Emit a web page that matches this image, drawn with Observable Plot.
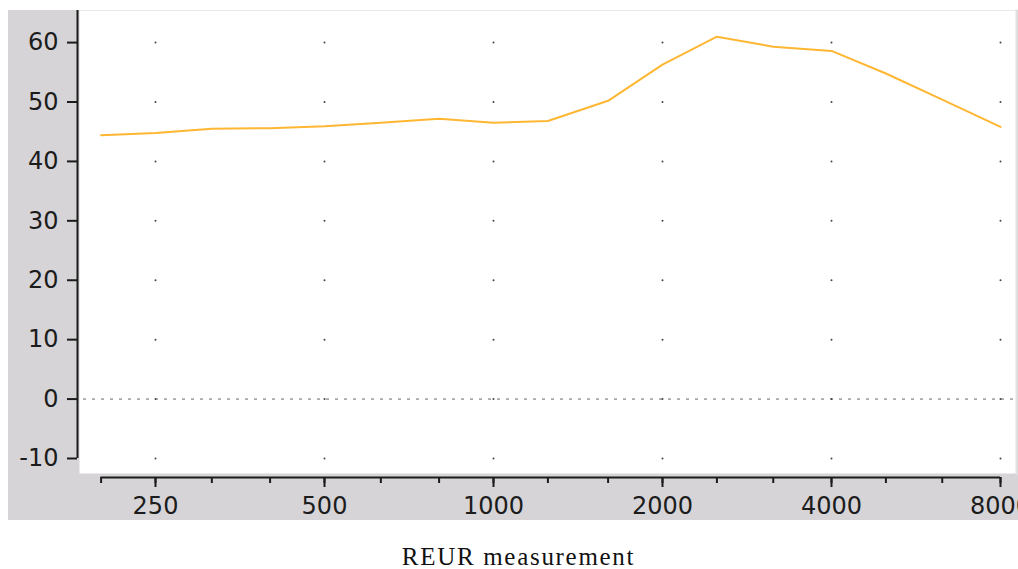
<!DOCTYPE html>
<html>
<head>
<meta charset="utf-8">
<script src="https://cdn.jsdelivr.net/npm/d3@7"></script>
<script src="https://cdn.jsdelivr.net/npm/@observablehq/plot@0.6"></script>
<style>
  html, body { margin: 0; padding: 0; background: #ffffff; overflow: hidden; }
  #chart { position: absolute; left: 8px; top: 10px; }
  #chart svg { overflow: visible; }
  #caption { position: absolute; left: 0; top: 544px; width: 1018px; padding-left: 19px; box-sizing: border-box;
    text-align: center; font-family: "Liberation Serif", "DejaVu Serif", serif; font-size: 25px; line-height: 1;
    letter-spacing: 1.7px; color: #111; }
</style>
</head>
<body>
<div id="chart"></div>
<div id="caption">REUR measurement</div>
<script>
// Third-octave frequencies (Hz)
const freqs = [200, 250, 315, 400, 500, 630, 800, 1000, 1250, 1600, 2000, 2500, 3150, 4000, 5000, 6300, 8000];
// REUR values (dB)
const reur = [44.4, 44.8, 45.5, 45.6, 45.9, 46.5, 47.2, 46.5, 46.8, 50.2, 56.3, 61.0, 59.3, 58.6, 54.8, 50.4, 45.8];
// Labelled x ticks
const majorTicks = [250, 500, 1000, 2000, 4000, 8000];
// y ticks
const yTicks = [-10, 0, 10, 20, 30, 40, 50, 60];
const yDomain = [-13.2, 65.4];

const data = freqs.map((f, i) => ({f, v: reur[i]}));
const gridPts = d3.cross(majorTicks, yTicks).map(([f, v]) => ({f, v}));

const axisColor = "#1c1c1c";
const font = "DejaVu Sans, sans-serif";

const chart = Plot.plot({
  width: 1010,
  height: 510,
  marginLeft: 69,
  marginRight: 2,
  marginTop: 0,
  marginBottom: 43,
  style: {background: "#d6d4d7", fontFamily: font, color: axisColor, overflow: "visible"},
  x: {type: "log", domain: [freqs[0], freqs[freqs.length - 1]], insetLeft: 23.6, insetRight: 16, label: null},
  y: {domain: yDomain, label: null},
  marks: [
    Plot.frame({fill: "white", stroke: null, insetLeft: 2, insetBottom: 4}),
    Plot.frame({anchor: "right", stroke: "#e2e2e2", strokeWidth: 2, insetBottom: 4}),
    Plot.ruleY([0], {stroke: "#666", strokeWidth: 1, strokeDasharray: "3,6", insetLeft: 6}),
    Plot.dot(gridPts, {x: "f", y: "v", r: 1, fill: "#444", stroke: null}),
    Plot.line(data, {x: "f", y: "v", stroke: "#ffb733", strokeWidth: 2}),
    // y axis line
    Plot.ruleX([0], {x: () => freqs[0], y1: () => yTicks[0], y2: () => yDomain[1], dx: -23.6, stroke: axisColor, strokeWidth: 2}),
    // x axis line
    Plot.ruleY([0], {y: () => yDomain[0], x1: () => freqs[0], x2: () => freqs[freqs.length - 1], stroke: axisColor, strokeWidth: 2}),
    Plot.axisY({ticks: yTicks, tickSize: 10, tickPadding: 9, fontSize: 24, strokeWidth: 2, stroke: axisColor, fill: axisColor, tickFormat: d => String(d), label: null}),
    Plot.axisX({ticks: freqs, tickSize: 6, strokeWidth: 2, stroke: axisColor, tickFormat: () => "", label: null}),
    Plot.axisX({ticks: majorTicks, tickSize: 10, strokeWidth: 2, stroke: axisColor, tickFormat: () => "", label: null}),
    Plot.text(majorTicks, {x: d => d, frameAnchor: "bottom", dy: 19, lineAnchor: "top", text: d => String(d), fontSize: 24, fill: axisColor})
  ]
});
document.getElementById("chart").appendChild(chart);
</script>
</body>
</html>
